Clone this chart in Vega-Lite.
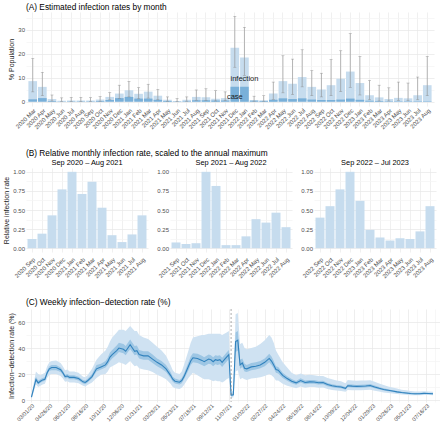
{
"$schema": "https://vega.github.io/schema/vega-lite/v6.json",
"padding": {"left": 2, "right": 3, "top": 2, "bottom": 0},
"background": "white",
"config": {
 "font": "Liberation Sans",
 "view": {"stroke": null},
 "axis": {"domain": false, "ticks": false, "labelColor": "#4d4d4d", "labelFontSize": 6, "labelPadding": 1.5, "labelOverlap": false, "labelFlush": false, "labelBound": false, "titleFontSize": 7, "titleFontWeight": "normal", "titleColor": "#1a1a1a", "titlePadding": 3, "gridColor": "#e9e9e9", "gridWidth": 0.7},
 "title": {"fontSize": 8.3, "fontWeight": "normal", "anchor": "start", "color": "#000000", "offset": 1},
 "concat": {"spacing": 8}
},
"datasets": {
 "monthly": [
  {"month": "2020 Mar", "infection": 8.6, "case": 1.0, "lo": 4.1, "hi": 18.1},
  {"month": "2020 Apr", "infection": 6.2, "case": 1.5, "lo": 2.5, "hi": 12.3},
  {"month": "2020 May", "infection": 1.1, "case": 0.3, "lo": 0.3, "hi": 2.8},
  {"month": "2020 Jun", "infection": 0.4, "case": 0.1, "lo": 0.1, "hi": 1.6},
  {"month": "2020 Jul", "infection": 0.5, "case": 0.15, "lo": 0.1, "hi": 1.8},
  {"month": "2020 Aug", "infection": 0.5, "case": 0.15, "lo": 0.1, "hi": 1.8},
  {"month": "2020 Sep", "infection": 0.5, "case": 0.15, "lo": 0.1, "hi": 1.7},
  {"month": "2020 Oct", "infection": 0.9, "case": 0.3, "lo": 0.2, "hi": 2.1},
  {"month": "2020 Nov", "infection": 2.0, "case": 0.7, "lo": 0.8, "hi": 3.8},
  {"month": "2020 Dec", "infection": 3.4, "case": 1.5, "lo": 1.4, "hi": 6.9},
  {"month": "2021 Jan", "infection": 4.8, "case": 2.0, "lo": 2.0, "hi": 8.5},
  {"month": "2021 Feb", "infection": 3.3, "case": 1.3, "lo": 1.2, "hi": 5.9},
  {"month": "2021 Mar", "infection": 4.2, "case": 1.3, "lo": 1.5, "hi": 7.3},
  {"month": "2021 Apr", "infection": 2.5, "case": 0.8, "lo": 0.8, "hi": 5.1},
  {"month": "2021 May", "infection": 0.8, "case": 0.3, "lo": 0.2, "hi": 2.0},
  {"month": "2021 Jun", "infection": 0.3, "case": 0.1, "lo": 0.05, "hi": 1.3},
  {"month": "2021 Jul", "infection": 0.8, "case": 0.2, "lo": 0.2, "hi": 2.0},
  {"month": "2021 Aug", "infection": 2.0, "case": 0.6, "lo": 0.6, "hi": 4.9},
  {"month": "2021 Sep", "infection": 1.9, "case": 0.6, "lo": 0.5, "hi": 5.4},
  {"month": "2021 Oct", "infection": 1.2, "case": 0.5, "lo": 0.3, "hi": 4.6},
  {"month": "2021 Nov", "infection": 1.5, "case": 0.5, "lo": 0.4, "hi": 4.1},
  {"month": "2021 Dec", "infection": 22.6, "case": 6.2, "lo": 14.4, "hi": 35.7},
  {"month": "2022 Jan", "infection": 18.5, "case": 6.2, "lo": 11.0, "hi": 31.1},
  {"month": "2022 Feb", "infection": 0.7, "case": 0.4, "lo": 0.2, "hi": 2.3},
  {"month": "2022 Mar", "infection": 0.6, "case": 0.3, "lo": 0.2, "hi": 2.5},
  {"month": "2022 Apr", "infection": 3.4, "case": 0.8, "lo": 1.0, "hi": 8.2},
  {"month": "2022 May", "infection": 8.6, "case": 1.4, "lo": 3.7, "hi": 19.2},
  {"month": "2022 Jun", "infection": 7.5, "case": 1.1, "lo": 3.0, "hi": 17.8},
  {"month": "2022 Jul", "infection": 10.3, "case": 1.4, "lo": 6.2, "hi": 21.7},
  {"month": "2022 Aug", "infection": 6.2, "case": 0.9, "lo": 2.5, "hi": 13.0},
  {"month": "2022 Sep", "infection": 5.1, "case": 0.7, "lo": 2.0, "hi": 11.9},
  {"month": "2022 Oct", "infection": 6.9, "case": 0.7, "lo": 2.5, "hi": 17.6},
  {"month": "2022 Nov", "infection": 9.6, "case": 0.9, "lo": 4.2, "hi": 21.3},
  {"month": "2022 Dec", "infection": 12.6, "case": 1.3, "lo": 6.0, "hi": 28.5},
  {"month": "2023 Jan", "infection": 7.8, "case": 0.8, "lo": 2.8, "hi": 18.9},
  {"month": "2023 Feb", "infection": 2.7, "case": 0.4, "lo": 0.8, "hi": 8.9},
  {"month": "2023 Mar", "infection": 1.8, "case": 0.3, "lo": 0.3, "hi": 6.9},
  {"month": "2023 Apr", "infection": 1.1, "case": 0.2, "lo": 0.3, "hi": 5.8},
  {"month": "2023 May", "infection": 1.6, "case": 0.2, "lo": 0.5, "hi": 8.2},
  {"month": "2023 Jun", "infection": 1.4, "case": 0.2, "lo": 0.4, "hi": 7.8},
  {"month": "2023 Jul", "infection": 2.7, "case": 0.2, "lo": 0.8, "hi": 10.3},
  {"month": "2023 Aug", "infection": 6.9, "case": 0.2, "lo": 2.5, "hi": 18.9}
 ],
 "relative": [
  {"period": "P1", "month": "2020 Sep", "value": 0.12},
  {"period": "P1", "month": "2020 Oct", "value": 0.19},
  {"period": "P1", "month": "2020 Nov", "value": 0.43},
  {"period": "P1", "month": "2020 Dec", "value": 0.77},
  {"period": "P1", "month": "2021 Jan", "value": 1.0},
  {"period": "P1", "month": "2021 Feb", "value": 0.71},
  {"period": "P1", "month": "2021 Mar", "value": 0.87},
  {"period": "P1", "month": "2021 Apr", "value": 0.53},
  {"period": "P1", "month": "2021 May", "value": 0.17},
  {"period": "P1", "month": "2021 Jun", "value": 0.08},
  {"period": "P1", "month": "2021 Jul", "value": 0.18},
  {"period": "P1", "month": "2021 Aug", "value": 0.43},
  {"period": "P2", "month": "2021 Sep", "value": 0.075},
  {"period": "P2", "month": "2021 Oct", "value": 0.055},
  {"period": "P2", "month": "2021 Nov", "value": 0.065},
  {"period": "P2", "month": "2021 Dec", "value": 1.0},
  {"period": "P2", "month": "2022 Jan", "value": 0.815},
  {"period": "P2", "month": "2022 Feb", "value": 0.04},
  {"period": "P2", "month": "2022 Mar", "value": 0.04},
  {"period": "P2", "month": "2022 Apr", "value": 0.155},
  {"period": "P2", "month": "2022 May", "value": 0.38},
  {"period": "P2", "month": "2022 Jun", "value": 0.335},
  {"period": "P2", "month": "2022 Jul", "value": 0.465},
  {"period": "P2", "month": "2022 Aug", "value": 0.275},
  {"period": "P3", "month": "2022 Sep", "value": 0.40},
  {"period": "P3", "month": "2022 Oct", "value": 0.55},
  {"period": "P3", "month": "2022 Nov", "value": 0.77},
  {"period": "P3", "month": "2022 Dec", "value": 1.0},
  {"period": "P3", "month": "2023 Jan", "value": 0.62},
  {"period": "P3", "month": "2023 Feb", "value": 0.24},
  {"period": "P3", "month": "2023 Mar", "value": 0.14},
  {"period": "P3", "month": "2023 Apr", "value": 0.10},
  {"period": "P3", "month": "2023 May", "value": 0.13},
  {"period": "P3", "month": "2023 Jun", "value": 0.12},
  {"period": "P3", "month": "2023 Jul", "value": 0.22},
  {"period": "P3", "month": "2023 Aug", "value": 0.55}
 ],
 "weekly": [
  {"date": "2020-03-01", "rate": 2.3, "lo95": 0.5, "lo50": 1.5, "hi50": 3, "hi95": 4},
  {"date": "2020-03-08", "rate": 9, "lo95": 6, "lo50": 8, "hi50": 10.5, "hi95": 13},
  {"date": "2020-03-15", "rate": 15.7, "lo95": 12, "lo50": 14.5, "hi50": 18, "hi95": 22},
  {"date": "2020-03-22", "rate": 13.2, "lo95": 10, "lo50": 12, "hi50": 15, "hi95": 20},
  {"date": "2020-03-29", "rate": 14.5, "lo95": 11, "lo50": 13.3, "hi50": 16, "hi95": 19},
  {"date": "2020-04-05", "rate": 15.5, "lo95": 12, "lo50": 14.3, "hi50": 17, "hi95": 20},
  {"date": "2020-04-12", "rate": 16, "lo95": 12.5, "lo50": 14.8, "hi50": 17.5, "hi95": 21},
  {"date": "2020-04-19", "rate": 21, "lo95": 17, "lo50": 19.5, "hi50": 23, "hi95": 26},
  {"date": "2020-04-26", "rate": 24, "lo95": 19.5, "lo50": 22.5, "hi50": 26, "hi95": 29},
  {"date": "2020-05-03", "rate": 25, "lo95": 20, "lo50": 23, "hi50": 27, "hi95": 30},
  {"date": "2020-05-17", "rate": 25, "lo95": 20, "lo50": 23, "hi50": 27, "hi95": 30.5},
  {"date": "2020-05-31", "rate": 23.3, "lo95": 18.5, "lo50": 21.5, "hi50": 25, "hi95": 28.5},
  {"date": "2020-06-07", "rate": 21, "lo95": 16.5, "lo50": 19.5, "hi50": 22.8, "hi95": 26},
  {"date": "2020-06-14", "rate": 18, "lo95": 14, "lo50": 16.5, "hi50": 19.5, "hi95": 23},
  {"date": "2020-06-21", "rate": 18.5, "lo95": 14.5, "lo50": 17, "hi50": 20, "hi95": 23.5},
  {"date": "2020-06-28", "rate": 17.4, "lo95": 13.5, "lo50": 16, "hi50": 19, "hi95": 22},
  {"date": "2020-07-12", "rate": 17.4, "lo95": 13.5, "lo50": 16, "hi50": 19, "hi95": 22},
  {"date": "2020-07-26", "rate": 16.5, "lo95": 13, "lo50": 15, "hi50": 18, "hi95": 21},
  {"date": "2020-08-09", "rate": 14, "lo95": 11, "lo50": 12.8, "hi50": 15.5, "hi95": 18},
  {"date": "2020-08-16", "rate": 13.5, "lo95": 10.5, "lo50": 12.2, "hi50": 15, "hi95": 17.5},
  {"date": "2020-08-23", "rate": 14.8, "lo95": 11.5, "lo50": 13.5, "hi50": 16.3, "hi95": 19},
  {"date": "2020-09-06", "rate": 18, "lo95": 13.5, "lo50": 16.5, "hi50": 20, "hi95": 24},
  {"date": "2020-09-20", "rate": 24, "lo95": 17, "lo50": 22, "hi50": 27, "hi95": 31},
  {"date": "2020-10-04", "rate": 25.5, "lo95": 19.5, "lo50": 23.5, "hi50": 28, "hi95": 35},
  {"date": "2020-10-18", "rate": 27, "lo95": 20, "lo50": 25, "hi50": 30, "hi95": 38},
  {"date": "2020-10-25", "rate": 29.5, "lo95": 22, "lo50": 27, "hi50": 32.5, "hi95": 41},
  {"date": "2020-11-01", "rate": 33, "lo95": 25, "lo50": 30, "hi50": 36.5, "hi95": 45},
  {"date": "2020-11-08", "rate": 35, "lo95": 26, "lo50": 32, "hi50": 38.5, "hi95": 48},
  {"date": "2020-11-22", "rate": 38, "lo95": 28, "lo50": 35, "hi50": 42, "hi95": 52},
  {"date": "2020-11-29", "rate": 40, "lo95": 29, "lo50": 37, "hi50": 44, "hi95": 54},
  {"date": "2020-12-13", "rate": 39, "lo95": 28, "lo50": 36, "hi50": 43, "hi95": 54},
  {"date": "2020-12-20", "rate": 37.5, "lo95": 27, "lo50": 34.5, "hi50": 41.5, "hi95": 53},
  {"date": "2020-12-27", "rate": 40, "lo95": 28.5, "lo50": 37, "hi50": 44, "hi95": 55},
  {"date": "2021-01-03", "rate": 42.5, "lo95": 30, "lo50": 39, "hi50": 46.5, "hi95": 57},
  {"date": "2021-01-10", "rate": 40, "lo95": 28, "lo50": 37, "hi50": 44, "hi95": 55},
  {"date": "2021-01-17", "rate": 37.5, "lo95": 26, "lo50": 34.5, "hi50": 41.5, "hi95": 53},
  {"date": "2021-01-24", "rate": 38, "lo95": 26.5, "lo50": 35, "hi50": 42, "hi95": 53},
  {"date": "2021-01-31", "rate": 35, "lo95": 24.5, "lo50": 32, "hi50": 38.5, "hi95": 50},
  {"date": "2021-02-14", "rate": 34, "lo95": 23.5, "lo50": 31, "hi50": 37.5, "hi95": 48},
  {"date": "2021-02-28", "rate": 34, "lo95": 23, "lo50": 31, "hi50": 37.5, "hi95": 47},
  {"date": "2021-03-14", "rate": 31.5, "lo95": 21.5, "lo50": 28.5, "hi50": 35, "hi95": 44},
  {"date": "2021-03-28", "rate": 29, "lo95": 19.5, "lo50": 26, "hi50": 32, "hi95": 41},
  {"date": "2021-04-11", "rate": 27, "lo95": 18, "lo50": 24, "hi50": 30, "hi95": 38},
  {"date": "2021-04-25", "rate": 24, "lo95": 16, "lo50": 21.5, "hi50": 27, "hi95": 34},
  {"date": "2021-05-09", "rate": 19, "lo95": 12.5, "lo50": 17, "hi50": 21.5, "hi95": 27},
  {"date": "2021-05-16", "rate": 16, "lo95": 10, "lo50": 14, "hi50": 18, "hi95": 23},
  {"date": "2021-05-23", "rate": 14.5, "lo95": 9, "lo50": 12.7, "hi50": 16.5, "hi95": 21},
  {"date": "2021-06-06", "rate": 13.7, "lo95": 8.5, "lo50": 12, "hi50": 15.5, "hi95": 20},
  {"date": "2021-06-13", "rate": 15, "lo95": 9.5, "lo50": 13, "hi50": 17, "hi95": 22},
  {"date": "2021-06-20", "rate": 18, "lo95": 11.5, "lo50": 16, "hi50": 20.5, "hi95": 27},
  {"date": "2021-07-04", "rate": 26, "lo95": 17, "lo50": 23, "hi50": 29, "hi95": 38},
  {"date": "2021-07-11", "rate": 30, "lo95": 19, "lo50": 27, "hi50": 33.5, "hi95": 44},
  {"date": "2021-07-18", "rate": 32.5, "lo95": 21, "lo50": 29, "hi50": 36, "hi95": 48},
  {"date": "2021-08-01", "rate": 32, "lo95": 19, "lo50": 28.5, "hi50": 35.5, "hi95": 49},
  {"date": "2021-08-15", "rate": 30.5, "lo95": 17, "lo50": 27, "hi50": 34, "hi95": 50},
  {"date": "2021-08-22", "rate": 29.5, "lo95": 16, "lo50": 26, "hi50": 33, "hi95": 50},
  {"date": "2021-09-05", "rate": 31.5, "lo95": 16, "lo50": 28, "hi50": 35, "hi95": 51},
  {"date": "2021-09-12", "rate": 31, "lo95": 15.5, "lo50": 27.5, "hi50": 34.5, "hi95": 51},
  {"date": "2021-09-19", "rate": 29.5, "lo95": 14.5, "lo50": 26, "hi50": 33, "hi95": 51},
  {"date": "2021-09-26", "rate": 31, "lo95": 15, "lo50": 27.5, "hi50": 34.5, "hi95": 51},
  {"date": "2021-10-03", "rate": 30.5, "lo95": 14.5, "lo50": 27, "hi50": 34, "hi95": 51},
  {"date": "2021-10-10", "rate": 31, "lo95": 14.5, "lo50": 27.5, "hi50": 34.5, "hi95": 51},
  {"date": "2021-10-17", "rate": 29, "lo95": 13.5, "lo50": 25.5, "hi50": 32.5, "hi95": 50},
  {"date": "2021-10-24", "rate": 31, "lo95": 14.5, "lo50": 27.5, "hi50": 34.5, "hi95": 51},
  {"date": "2021-10-31", "rate": 33, "lo95": 16, "lo50": 29.5, "hi50": 36.5, "hi95": 52},
  {"date": "2021-11-07", "rate": 35, "lo95": 17, "lo50": 31.5, "hi50": 38.5, "hi95": 53},
  {"date": "2021-11-14", "rate": 3.8, "lo95": 2, "lo50": 3, "hi50": 4.8, "hi95": 6.5},
  {"date": "2021-11-21", "rate": 4, "lo95": 2, "lo50": 3.2, "hi50": 5, "hi95": 7},
  {"date": "2021-11-28", "rate": 45, "lo95": 22, "lo50": 37, "hi50": 52, "hi95": 66},
  {"date": "2021-12-05", "rate": 46, "lo95": 23, "lo50": 38, "hi50": 53, "hi95": 67},
  {"date": "2021-12-12", "rate": 27, "lo95": 16, "lo50": 24, "hi50": 31, "hi95": 43},
  {"date": "2021-12-19", "rate": 28.5, "lo95": 17, "lo50": 25.5, "hi50": 32, "hi95": 44},
  {"date": "2021-12-26", "rate": 24.5, "lo95": 16, "lo50": 22, "hi50": 28, "hi95": 40},
  {"date": "2022-01-02", "rate": 24, "lo95": 15.5, "lo50": 21.5, "hi50": 27, "hi95": 39},
  {"date": "2022-01-16", "rate": 25.5, "lo95": 16.5, "lo50": 23, "hi50": 28.5, "hi95": 40},
  {"date": "2022-01-30", "rate": 26, "lo95": 17, "lo50": 23.5, "hi50": 29, "hi95": 41},
  {"date": "2022-02-13", "rate": 27, "lo95": 17.5, "lo50": 24.5, "hi50": 30, "hi95": 43},
  {"date": "2022-02-27", "rate": 29, "lo95": 18.5, "lo50": 26, "hi50": 32, "hi95": 46},
  {"date": "2022-03-13", "rate": 32, "lo95": 20, "lo50": 29, "hi50": 35.5, "hi95": 50},
  {"date": "2022-03-20", "rate": 30, "lo95": 19, "lo50": 27, "hi50": 33.5, "hi95": 48},
  {"date": "2022-03-27", "rate": 27, "lo95": 17.5, "lo50": 24.5, "hi50": 30, "hi95": 44},
  {"date": "2022-04-03", "rate": 23.5, "lo95": 15, "lo50": 21, "hi50": 26, "hi95": 38},
  {"date": "2022-04-10", "rate": 23, "lo95": 15, "lo50": 20.5, "hi50": 25.5, "hi95": 35},
  {"date": "2022-04-24", "rate": 19, "lo95": 12.5, "lo50": 17, "hi50": 21, "hi95": 29},
  {"date": "2022-05-08", "rate": 16.5, "lo95": 11, "lo50": 14.8, "hi50": 18.3, "hi95": 25},
  {"date": "2022-05-22", "rate": 14.5, "lo95": 10, "lo50": 13, "hi50": 16.2, "hi95": 21},
  {"date": "2022-06-05", "rate": 13.2, "lo95": 9, "lo50": 11.8, "hi50": 14.7, "hi95": 19},
  {"date": "2022-06-19", "rate": 15, "lo95": 10.5, "lo50": 13.5, "hi50": 16.7, "hi95": 20.5},
  {"date": "2022-07-03", "rate": 13.5, "lo95": 9.5, "lo50": 12.2, "hi50": 15, "hi95": 19},
  {"date": "2022-07-17", "rate": 14, "lo95": 10, "lo50": 12.6, "hi50": 15.5, "hi95": 19.5},
  {"date": "2022-07-31", "rate": 13.9, "lo95": 10, "lo50": 12.5, "hi50": 15.4, "hi95": 19},
  {"date": "2022-08-14", "rate": 13.3, "lo95": 9.5, "lo50": 12, "hi50": 14.7, "hi95": 18.5},
  {"date": "2022-08-28", "rate": 13.5, "lo95": 9.7, "lo50": 12.2, "hi50": 14.9, "hi95": 18.5},
  {"date": "2022-09-11", "rate": 11.9, "lo95": 8.5, "lo50": 10.7, "hi50": 13.2, "hi95": 17},
  {"date": "2022-09-25", "rate": 11, "lo95": 7.8, "lo50": 9.9, "hi50": 12.2, "hi95": 16},
  {"date": "2022-10-09", "rate": 10.4, "lo95": 7.3, "lo50": 9.3, "hi50": 11.6, "hi95": 15},
  {"date": "2022-10-23", "rate": 10, "lo95": 7, "lo50": 9, "hi50": 11.2, "hi95": 14.5},
  {"date": "2022-11-06", "rate": 9, "lo95": 6.3, "lo50": 8, "hi50": 10, "hi95": 13},
  {"date": "2022-11-13", "rate": 11, "lo95": 7.8, "lo50": 9.9, "hi50": 12.2, "hi95": 15.5},
  {"date": "2022-11-27", "rate": 10.7, "lo95": 7.6, "lo50": 9.6, "hi50": 11.9, "hi95": 15},
  {"date": "2022-12-11", "rate": 10.5, "lo95": 7.5, "lo50": 9.4, "hi50": 11.6, "hi95": 14.8},
  {"date": "2022-12-25", "rate": 10.6, "lo95": 7.5, "lo50": 9.5, "hi50": 11.8, "hi95": 15},
  {"date": "2023-01-08", "rate": 10.8, "lo95": 7.7, "lo50": 9.7, "hi50": 12, "hi95": 15},
  {"date": "2023-01-22", "rate": 11.2, "lo95": 8, "lo50": 10, "hi50": 12.4, "hi95": 15.3},
  {"date": "2023-02-05", "rate": 10, "lo95": 7.2, "lo50": 9, "hi50": 11.1, "hi95": 14},
  {"date": "2023-02-19", "rate": 9, "lo95": 6.5, "lo50": 8.1, "hi50": 10, "hi95": 12.8},
  {"date": "2023-03-05", "rate": 8.1, "lo95": 5.8, "lo50": 7.3, "hi50": 9, "hi95": 11.5},
  {"date": "2023-03-19", "rate": 7.5, "lo95": 5.4, "lo50": 6.8, "hi50": 8.3, "hi95": 10.5},
  {"date": "2023-04-02", "rate": 6.9, "lo95": 5, "lo50": 6.2, "hi50": 7.6, "hi95": 9.7},
  {"date": "2023-04-16", "rate": 6.3, "lo95": 4.6, "lo50": 5.7, "hi50": 7, "hi95": 8.8},
  {"date": "2023-04-30", "rate": 5.8, "lo95": 4.2, "lo50": 5.2, "hi50": 6.4, "hi95": 8},
  {"date": "2023-05-14", "rate": 5.4, "lo95": 4, "lo50": 4.9, "hi50": 6, "hi95": 7.5},
  {"date": "2023-05-28", "rate": 5, "lo95": 3.7, "lo50": 4.5, "hi50": 5.6, "hi95": 7},
  {"date": "2023-06-11", "rate": 4.8, "lo95": 3.6, "lo50": 4.3, "hi50": 5.3, "hi95": 6.6},
  {"date": "2023-06-25", "rate": 4.9, "lo95": 3.7, "lo50": 4.4, "hi50": 5.4, "hi95": 6.6},
  {"date": "2023-07-09", "rate": 5.1, "lo95": 3.9, "lo50": 4.6, "hi50": 5.6, "hi95": 6.8},
  {"date": "2023-07-23", "rate": 5, "lo95": 3.8, "lo50": 4.5, "hi50": 5.5, "hi95": 6.6},
  {"date": "2023-08-06", "rate": 4.8, "lo95": 3.7, "lo50": 4.3, "hi50": 5.3, "hi95": 6.4}
 ]
},
"spacing": 19,
"vconcat": [
 {
  "title": {"text": "(A) Estimated infection rates by month", "frame": "group"},
  "width": 408, "height": 94,
  "encoding": {
   "x": {"field": "month", "type": "nominal", "sort": null, "scale": {"paddingInner": 0.1, "paddingOuter": 0.25},
     "axis": {"title": null, "labelAngle": -45, "grid": true, "bandPosition": 0.5, "labelPadding": 1, "labelOverlap": false}}
  },
  "layer": [
   {"data": {"name": "monthly"}, "mark": {"type": "bar", "color": "#c6dcee"},
    "encoding": {
     "y": {"field": "infection", "type": "quantitative", "title": "% Population", "scale": {"domain": [-1.8, 37.5], "nice": false, "zero": false},
       "axis": {"title": "% Population", "values": [0, 5, 10, 15, 20, 25, 30, 35], "labelOverlap": false,
         "labelOpacity": {"condition": {"test": "datum.value % 10 == 0", "value": 1}, "value": 0},
         "gridColor": {"condition": {"test": "datum.value % 10 == 0", "value": "#e6e6e6"}, "value": "#f3f3f3"}}}
    }},
   {"data": {"name": "monthly"}, "mark": {"type": "bar", "color": "#79b0d9"},
    "encoding": {"y": {"field": "case", "type": "quantitative", "title": "% Population",
       "axis": {"title": "% Population", "values": [0, 5, 10, 15, 20, 25, 30, 35], "labelOverlap": false,
         "labelOpacity": {"condition": {"test": "datum.value % 10 == 0", "value": 1}, "value": 0},
         "gridColor": {"condition": {"test": "datum.value % 10 == 0", "value": "#e6e6e6"}, "value": "#f3f3f3"}}}}},
   {"data": {"name": "monthly"}, "mark": {"type": "errorbar", "ticks": {"size": 3}, "color": "#8a8a8a", "thickness": 0.6},
    "encoding": {"y": {"field": "lo", "type": "quantitative", "title": "% Population",
       "axis": {"title": "% Population", "values": [0, 5, 10, 15, 20, 25, 30, 35], "labelOverlap": false,
         "labelOpacity": {"condition": {"test": "datum.value % 10 == 0", "value": 1}, "value": 0},
         "gridColor": {"condition": {"test": "datum.value % 10 == 0", "value": "#e6e6e6"}, "value": "#f3f3f3"}}}, "y2": {"field": "hi"}}},
   {"data": {"values": [{"month": "2022 Jan", "pos": 9.4, "label": "infection"}, {"month": "2021 Dec", "pos": 2.1, "label": "case"}]},
    "mark": {"type": "text", "fontSize": 7.5, "color": "#1a1a1a"},
    "encoding": {"y": {"field": "pos", "type": "quantitative", "title": "% Population",
       "axis": {"title": "% Population", "values": [0, 5, 10, 15, 20, 25, 30, 35], "labelOverlap": false,
         "labelOpacity": {"condition": {"test": "datum.value % 10 == 0", "value": 1}, "value": 0},
         "gridColor": {"condition": {"test": "datum.value % 10 == 0", "value": "#e6e6e6"}, "value": "#f3f3f3"}}},
     "text": {"field": "label"}, "dx": {"condition": {"test": "datum.label == 'case'", "value": 4}, "value": 0}}}
  ]
 },
 {
  "title": {"text": "(B) Relative monthly infection rate, scaled to the annual maximum", "frame": "group"},
  "spacing": 8,
  "hconcat": [
   {"title": {"text": "Sep 2020 – Aug 2021", "anchor": "middle", "fontSize": 7.4, "offset": 2},
    "width": 122, "height": 84, "data": {"name": "relative"}, "transform": [{"filter": "datum.period == 'P1'"}],
    "mark": {"type": "bar", "color": "#c6dcee"},
    "encoding": {
     "x": {"field": "month", "type": "nominal", "sort": null, "scale": {"paddingInner": 0.1, "paddingOuter": 0.15}, "axis": {"title": null, "labelAngle": -45, "grid": true, "bandPosition": 0.5, "labelPadding": 4, "labelOverlap": false}},
     "y": {"field": "value", "type": "quantitative", "scale": {"domain": [-0.05, 1.05], "nice": false, "zero": false},
       "axis": {"title": "Relative infection rate", "values": [0, 0.125, 0.25, 0.375, 0.5, 0.625, 0.75, 0.875, 1], "labelOverlap": false, "format": ".2f",
         "labelOpacity": {"condition": {"test": "(datum.value * 4) % 1 == 0", "value": 1}, "value": 0},
         "gridColor": {"condition": {"test": "(datum.value * 4) % 1 == 0", "value": "#e6e6e6"}, "value": "#f3f3f3"}}}
    }},
   {"title": {"text": "Sep 2021 – Aug 2022", "anchor": "middle", "fontSize": 7.4, "offset": 2},
    "width": 122, "height": 84, "data": {"name": "relative"}, "transform": [{"filter": "datum.period == 'P2'"}],
    "mark": {"type": "bar", "color": "#c6dcee"},
    "encoding": {
     "x": {"field": "month", "type": "nominal", "sort": null, "scale": {"paddingInner": 0.1, "paddingOuter": 0.15}, "axis": {"title": null, "labelAngle": -45, "grid": true, "bandPosition": 0.5, "labelPadding": 4, "labelOverlap": false}},
     "y": {"field": "value", "type": "quantitative", "scale": {"domain": [-0.05, 1.05], "nice": false, "zero": false},
       "axis": {"title": null, "values": [0, 0.125, 0.25, 0.375, 0.5, 0.625, 0.75, 0.875, 1], "labelOverlap": false, "format": ".2f",
         "labelOpacity": {"condition": {"test": "(datum.value * 4) % 1 == 0", "value": 1}, "value": 0},
         "gridColor": {"condition": {"test": "(datum.value * 4) % 1 == 0", "value": "#e6e6e6"}, "value": "#f3f3f3"}}}
    }},
   {"title": {"text": "Sep 2022 – Jul 2023", "anchor": "middle", "fontSize": 7.4, "offset": 2},
    "width": 122, "height": 84, "data": {"name": "relative"}, "transform": [{"filter": "datum.period == 'P3'"}],
    "mark": {"type": "bar", "color": "#c6dcee"},
    "encoding": {
     "x": {"field": "month", "type": "nominal", "sort": null, "scale": {"paddingInner": 0.1, "paddingOuter": 0.15}, "axis": {"title": null, "labelAngle": -45, "grid": true, "bandPosition": 0.5, "labelPadding": 4, "labelOverlap": false}},
     "y": {"field": "value", "type": "quantitative", "scale": {"domain": [-0.05, 1.05], "nice": false, "zero": false},
       "axis": {"title": null, "values": [0, 0.125, 0.25, 0.375, 0.5, 0.625, 0.75, 0.875, 1], "labelOverlap": false, "format": ".2f",
         "labelOpacity": {"condition": {"test": "(datum.value * 4) % 1 == 0", "value": 1}, "value": 0},
         "gridColor": {"condition": {"test": "(datum.value * 4) % 1 == 0", "value": "#e6e6e6"}, "value": "#f3f3f3"}}}
    }}
  ]
 },
 {
  "title": {"text": "(C) Weekly infection−detection rate (%)", "frame": "group", "offset": 2},
  "width": 415, "height": 93,
  "encoding": {
   "x": {"field": "date", "type": "temporal",
     "scale": {"type": "utc", "domain": [{"year": 2020, "month": 2, "date": 13, "utc": true}, {"year": 2023, "month": 8, "date": 31, "utc": true}]},
     "axis": {"title": null, "labelAngle": -45, "labelPadding": 1, "labelOverlap": false, "labelFontSize": 5.6,
       "labelExpr": "utcFormat(datum.value, '%m/%d/%y')",
       "values": [
        {"year": 2020, "month": 3, "date": 1, "utc": true}, {"year": 2020, "month": 3, "date": 29, "utc": true},
        {"year": 2020, "month": 4, "date": 26, "utc": true}, {"year": 2020, "month": 5, "date": 24, "utc": true},
        {"year": 2020, "month": 6, "date": 21, "utc": true}, {"year": 2020, "month": 7, "date": 19, "utc": true},
        {"year": 2020, "month": 8, "date": 16, "utc": true}, {"year": 2020, "month": 9, "date": 13, "utc": true},
        {"year": 2020, "month": 10, "date": 11, "utc": true}, {"year": 2020, "month": 11, "date": 8, "utc": true},
        {"year": 2020, "month": 12, "date": 6, "utc": true}, {"year": 2021, "month": 1, "date": 3, "utc": true},
        {"year": 2021, "month": 1, "date": 31, "utc": true}, {"year": 2021, "month": 2, "date": 28, "utc": true},
        {"year": 2021, "month": 3, "date": 28, "utc": true}, {"year": 2021, "month": 4, "date": 25, "utc": true},
        {"year": 2021, "month": 5, "date": 23, "utc": true}, {"year": 2021, "month": 6, "date": 20, "utc": true},
        {"year": 2021, "month": 7, "date": 18, "utc": true}, {"year": 2021, "month": 8, "date": 15, "utc": true},
        {"year": 2021, "month": 9, "date": 12, "utc": true}, {"year": 2021, "month": 10, "date": 10, "utc": true},
        {"year": 2021, "month": 11, "date": 7, "utc": true}, {"year": 2021, "month": 12, "date": 5, "utc": true},
        {"year": 2022, "month": 1, "date": 2, "utc": true}, {"year": 2022, "month": 1, "date": 30, "utc": true},
        {"year": 2022, "month": 2, "date": 27, "utc": true}, {"year": 2022, "month": 3, "date": 27, "utc": true},
        {"year": 2022, "month": 4, "date": 24, "utc": true}, {"year": 2022, "month": 5, "date": 22, "utc": true},
        {"year": 2022, "month": 6, "date": 19, "utc": true}, {"year": 2022, "month": 7, "date": 17, "utc": true},
        {"year": 2022, "month": 8, "date": 14, "utc": true}, {"year": 2022, "month": 9, "date": 11, "utc": true},
        {"year": 2022, "month": 10, "date": 9, "utc": true}, {"year": 2022, "month": 11, "date": 6, "utc": true},
        {"year": 2022, "month": 12, "date": 4, "utc": true}, {"year": 2023, "month": 1, "date": 1, "utc": true},
        {"year": 2023, "month": 1, "date": 29, "utc": true}, {"year": 2023, "month": 2, "date": 26, "utc": true},
        {"year": 2023, "month": 3, "date": 26, "utc": true}, {"year": 2023, "month": 4, "date": 23, "utc": true},
        {"year": 2023, "month": 5, "date": 21, "utc": true}, {"year": 2023, "month": 6, "date": 18, "utc": true},
        {"year": 2023, "month": 7, "date": 16, "utc": true}, {"year": 2023, "month": 8, "date": 13, "utc": true}
       ],
       "labelOpacity": {"condition": {"test": "round((datum.value - 1583020800000) / 2419200000) % 2 == 0", "value": 1}, "value": 0},
       "gridColor": {"condition": {"test": "round((datum.value - 1583020800000) / 2419200000) % 2 == 0", "value": "#e6e6e6"}, "value": "#f3f3f3"}}}
  },
  "layer": [
   {"data": {"name": "weekly"}, "mark": {"type": "area", "color": "#cfe2f2"},
    "encoding": {
     "y": {"field": "lo95", "type": "quantitative", "title": "Infection−detection rate (%)", "scale": {"domain": [-1.5, 70], "nice": false, "zero": false},
       "axis": {"title": "Infection−detection rate (%)", "values": [0, 10, 20, 30, 40, 50, 60], "labelOverlap": false,
         "labelOpacity": {"condition": {"test": "datum.value % 20 == 0", "value": 1}, "value": 0},
         "gridColor": {"condition": {"test": "datum.value % 20 == 0", "value": "#e6e6e6"}, "value": "#f3f3f3"}}},
     "y2": {"field": "hi95"}
    }},
   {"data": {"name": "weekly"}, "mark": {"type": "area", "color": "#9dc6e4"},
    "encoding": {"y": {"field": "lo50", "type": "quantitative", "title": "Infection−detection rate (%)",
       "axis": {"title": "Infection−detection rate (%)", "values": [0, 10, 20, 30, 40, 50, 60], "labelOverlap": false,
         "labelOpacity": {"condition": {"test": "datum.value % 20 == 0", "value": 1}, "value": 0},
         "gridColor": {"condition": {"test": "datum.value % 20 == 0", "value": "#e6e6e6"}, "value": "#f3f3f3"}}}, "y2": {"field": "hi50"}}},
   {"data": {"name": "weekly"}, "mark": {"type": "line", "color": "#3182bd", "strokeWidth": 1.1},
    "encoding": {"y": {"field": "rate", "type": "quantitative", "title": "Infection−detection rate (%)",
       "axis": {"title": "Infection−detection rate (%)", "values": [0, 10, 20, 30, 40, 50, 60], "labelOverlap": false,
         "labelOpacity": {"condition": {"test": "datum.value % 20 == 0", "value": 1}, "value": 0},
         "gridColor": {"condition": {"test": "datum.value % 20 == 0", "value": "#e6e6e6"}, "value": "#f3f3f3"}}}}},
   {"data": {"values": [{"date": "2021-11-14"}]}, "mark": {"type": "rule", "color": "#8a8a8a", "strokeDash": [2, 2], "strokeWidth": 0.7},
    "encoding": {}}
  ]
 }
]
}
